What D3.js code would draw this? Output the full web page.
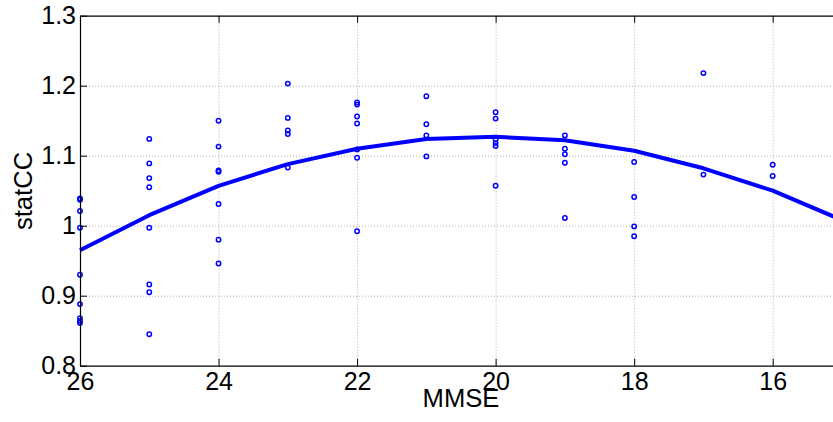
<!DOCTYPE html>
<html>
<head>
<meta charset="utf-8">
<script src="https://cdn.jsdelivr.net/npm/d3@7"></script>
<style>
  html, body { margin: 0; padding: 0; background: #fff; overflow: hidden; }
  svg { display: block; font-family: "Liberation Sans", Arial, Helvetica, sans-serif; }
</style>
</head>
<body>
<svg id="chart" width="833" height="422"></svg>
<script>
// Observed subjects: MMSE score and statCC value
const mmse = [
  26, 26, 26, 26, 26, 26, 26, 26, 26,
  25, 25, 25, 25, 25, 25, 25, 25,
  24, 24, 24, 24, 24, 24, 24,
  23, 23, 23, 23, 23,
  22, 22, 22, 22, 22, 22, 22,
  21, 21, 21, 21,
  20, 20, 20, 20, 20, 20,
  19, 19, 19, 19, 19,
  18, 18, 18, 18,
  17, 17,
  16, 16
];
const statCC = [
  1.039, 1.037, 1.021, 0.997, 0.930, 0.888, 0.868, 0.864, 0.861,
  1.124, 1.089, 1.068, 1.055, 0.997, 0.916, 0.905, 0.845,
  1.150, 1.113, 1.079, 1.077, 1.031, 0.980, 0.946,
  1.203, 1.154, 1.136, 1.131, 1.083,
  1.176, 1.173, 1.156, 1.146, 1.109, 1.097, 0.992,
  1.185, 1.145, 1.129, 1.099,
  1.162, 1.153, 1.123, 1.118, 1.114, 1.057,
  1.129, 1.110, 1.102, 1.090, 1.011,
  1.091, 1.041, 0.999, 0.985,
  1.218, 1.073,
  1.087, 1.071
];

// Fitted trend
const fitMMSE   = [26, 25, 24, 23, 22, 21, 20, 19, 18, 17, 16, 15];
const fitStatCC = [0.965, 1.015, 1.057, 1.088, 1.110, 1.124, 1.127, 1.122, 1.107, 1.082, 1.050, 1.008];

// Axis ticks
const xTicks = [26, 24, 22, 20, 18, 16];
const yTicks = [0.8, 0.9, 1.0, 1.1, 1.2, 1.3];
const yTickLabels = ["0.8", "0.9", "1", "1.1", "1.2", "1.3"];

const svg = d3.select("#chart");
const plotLeft = 80, plotTop = 15.7, plotBottom = 365.7;
const unit = 69.27;

const x = d3.scaleLinear().domain([26, 15]).range([plotLeft, plotLeft + 11 * unit]);
const y = d3.scaleLinear().domain([0.8, 1.3]).range([plotBottom, plotTop]);
const plotW = x(15) - plotLeft;
const plotH = plotBottom - plotTop;

// dotted grid
const grid = svg.append("g").attr("class", "grid");
grid.append("g")
  .attr("transform", `translate(0,${plotBottom})`)
  .call(d3.axisBottom(x).tickValues(xTicks.filter(d => d !== 26)).tickSize(-plotH).tickFormat(""))
  .call(g => g.select(".domain").remove())
  .call(g => g.selectAll("line").attr("stroke", "#b0b0b0").attr("stroke-width", 1).attr("stroke-dasharray", "1,2"));
grid.append("g")
  .attr("transform", `translate(${plotLeft},0)`)
  .call(d3.axisLeft(y).tickValues(yTicks.filter(d => d !== 0.8 && d !== 1.3)).tickSize(-plotW).tickFormat(""))
  .call(g => g.select(".domain").remove())
  .call(g => g.selectAll("line").attr("stroke", "#b0b0b0").attr("stroke-width", 1).attr("stroke-dasharray", "1,2"));

// fitted curve
const line = d3.line().x((d, i) => x(fitMMSE[i])).y(d => y(d));
svg.append("path")
  .datum(fitStatCC)
  .attr("d", line)
  .attr("fill", "none")
  .attr("stroke", "#0000ff")
  .attr("stroke-width", 4)
  .attr("stroke-linejoin", "round");

// scatter points
svg.append("g").selectAll("circle")
  .data(statCC)
  .join("circle")
  .attr("cx", (d, i) => x(mmse[i]))
  .attr("cy", d => y(d))
  .attr("r", 2.2)
  .attr("fill", "none")
  .attr("stroke", "#0000ff")
  .attr("stroke-width", 1.5);

// axes with inward ticks
const tickFont = 25;
const titleFont = 25.6;
const xAxis = svg.append("g")
  .attr("transform", `translate(0,${plotBottom})`)
  .call(d3.axisBottom(x).tickValues(xTicks).tickSizeInner(-7).tickSizeOuter(0).tickPadding(6.5).tickFormat(d3.format("d")));
const xAxisTop = svg.append("g")
  .attr("transform", `translate(0,${plotTop})`)
  .call(d3.axisTop(x).tickValues(xTicks).tickSizeInner(-7).tickSizeOuter(0).tickFormat(""));
const yAxis = svg.append("g")
  .attr("transform", `translate(${plotLeft},0)`)
  .call(d3.axisLeft(y).tickValues(yTicks).tickSizeInner(-7).tickSizeOuter(0).tickPadding(4)
    .tickFormat((d, i) => yTickLabels[i]));

[xAxis, xAxisTop, yAxis].forEach(g => {
  g.select(".domain").attr("stroke", "#000").attr("stroke-width", 1.2);
  g.selectAll(".tick line").attr("stroke", "#000").attr("stroke-width", 1);
  g.selectAll(".tick text")
    .attr("fill", "#000")
    .attr("font-size", tickFont)
    .attr("font-family", "Liberation Sans, Arial, sans-serif");
});
xAxis.selectAll(".tick text").attr("dy", "0.71em");

// axis titles
svg.append("text")
  .attr("x", 461)
  .attr("y", 406.5)
  .attr("text-anchor", "middle")
  .attr("font-size", titleFont)
  .attr("fill", "#000")
  .text("MMSE");
svg.append("text")
  .attr("transform", `translate(32,191) rotate(-90)`)
  .attr("text-anchor", "middle")
  .attr("font-size", titleFont)
  .attr("fill", "#000")
  .text("statCC");
</script>
</body>
</html>
